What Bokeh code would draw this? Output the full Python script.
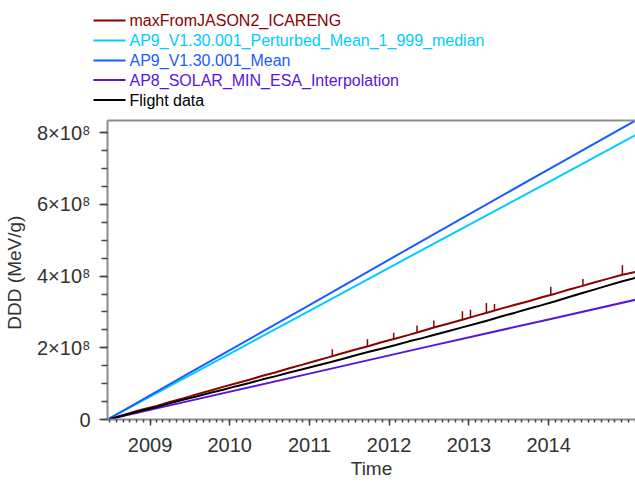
import pandas as pd
from bokeh.plotting import figure
from bokeh.layouts import column
from bokeh.models import FixedTicker, LinearAxis, Range1d
from bokeh.core.properties import value
from bokeh.embed import file_html
from bokeh.resources import INLINE

# ---------------- data (DDD in units of 1e8 MeV/g) ----------------
obs_dates = ["2008-06-20", "2008-08-01", "2008-10-01", "2008-12-01",
             "2009-02-01", "2009-04-01", "2009-06-01", "2009-08-01", "2009-10-01", "2009-12-01",
             "2010-02-01", "2010-04-01", "2010-06-01", "2010-08-01", "2010-10-01", "2010-12-01",
             "2011-02-01", "2011-04-01", "2011-06-01", "2011-08-01", "2011-10-01", "2011-12-01",
             "2012-02-01", "2012-04-01", "2012-06-01", "2012-08-01", "2012-10-01", "2012-12-01",
             "2013-02-01", "2013-04-01", "2013-06-01", "2013-08-01", "2013-10-01", "2013-12-01",
             "2014-02-01", "2014-04-01", "2014-06-01", "2014-08-01", "2014-10-01", "2014-12-01",
             "2015-02-03"]
max_jason2 = [0, 0.07, 0.18, 0.29, 0.38, 0.49, 0.59, 0.70, 0.80, 0.91,
              1.01, 1.11, 1.22, 1.32, 1.43, 1.53, 1.64, 1.74, 1.85, 1.95,
              2.05, 2.16, 2.26, 2.36, 2.47, 2.58, 2.68, 2.78, 2.89, 2.99,
              3.10, 3.20, 3.30, 3.41, 3.51, 3.62, 3.72, 3.83, 3.93, 4.03, 4.12]
flight = [0, 0.065, 0.16, 0.26, 0.35, 0.45, 0.55, 0.64, 0.74, 0.83,
          0.93, 1.02, 1.12, 1.21, 1.31, 1.40, 1.50, 1.59, 1.69, 1.79,
          1.89, 1.98, 2.08, 2.18, 2.27, 2.37, 2.47, 2.57, 2.67, 2.77,
          2.88, 2.98, 3.09, 3.19, 3.30, 3.41, 3.52, 3.63, 3.74, 3.85, 3.95]

spike_dates = ["2011-04-16", "2011-09-24", "2012-01-22", "2012-05-08", "2012-07-24", "2012-12-02",
               "2013-01-08", "2013-03-22", "2013-04-28", "2014-01-11", "2014-06-07", "2014-12-05"]
spike_base = [1.76, 2.04, 2.24, 2.43, 2.56, 2.78, 2.84, 2.97, 3.03, 3.48, 3.73, 4.04]
spike_top = [1.96, 2.24, 2.42, 2.62, 2.76, 3.02, 3.06, 3.25, 3.22, 3.70, 3.92, 4.30]

model_dates = ["2008-06-20", "2009-07-01", "2011-01-01", "2012-07-01", "2014-01-01", "2015-02-03"]
ap9_mean = [0, 1.30, 3.19, 5.09, 6.98, 8.34]
ap9_perturbed = [0, 1.23, 3.03, 4.83, 6.62, 7.93]
ap8_min = [0, 0.52, 1.28, 2.04, 2.79, 3.34]

labels = ["maxFromJASON2_ICARENG", "AP9_V1.30.001_Perturbed_Mean_1_999_median",
          "AP9_V1.30.001_Mean", "AP8_SOLAR_MIN_ESA_Interpolation", "Flight data"]
colors = ["#8b0000", "#00ccff", "#1a5cff", "#5a14dc", "#000000"]

year_ticks = [2009, 2010, 2011, 2012, 2013, 2014]
y_ticks = [0, 2, 4, 6, 8]
y_tick_labels = ["0", "2×10⁸", "4×10⁸", "6×10⁸", "8×10⁸"]

SCALE = 1e8
FONT = "Liberation Sans"
TXT = "#333333"
AX = "#8c8c8c"

def dt(s):
    return pd.to_datetime(s)

def ms(s):
    return pd.Timestamp(s).value / 1e6

obs_x = [dt(d) for d in obs_dates]
mod_x = [dt(d) for d in model_dates]

# ---------------- legend strip (pixel-like coordinates) ----------------
LEG_H = 110
leg = figure(width=635, height=LEG_H, output_backend="svg", toolbar_location=None,
             x_range=Range1d(0, 635), y_range=Range1d(LEG_H, 0),
             x_axis_location=None, y_axis_location=None,
             min_border=0, min_border_left=0, min_border_right=0,
             min_border_top=0, min_border_bottom=0)
leg.outline_line_color = None
leg.grid.visible = False
row_y = [20, 40, 60, 79.5, 99.5]
leg.segment(x0=[93] * 5, x1=[125] * 5, y0=row_y, y1=row_y, line_color=colors, line_width=2)
leg.text(x=[129] * 5, y=row_y, text=labels, text_color=colors,
         text_font=value(FONT), text_font_size="16px", text_baseline="alphabetic",
         text_align="left")

# ---------------- main plot ----------------
p = figure(width=635, height=483 - LEG_H, x_axis_type="datetime", output_backend="svg",
           toolbar_location=None,
           x_range=Range1d(dt("2008-06-20"), dt("2015-02-03")),
           y_range=Range1d(0, 8.34 * SCALE),
           min_border_left=107, min_border_top=10, min_border_right=0, min_border_bottom=64)
p.outline_line_color = None
p.grid.visible = False

for fig in (leg, p):
    if "frame_align" in fig.properties():
        fig.frame_align = False

p.line(obs_x, [v * SCALE for v in max_jason2], line_color=colors[0], line_width=2)
p.segment(x0=[dt(d) for d in spike_dates], y0=[v * SCALE for v in spike_base],
          x1=[dt(d) for d in spike_dates], y1=[v * SCALE for v in spike_top],
          line_color=colors[0], line_width=1.5)
p.line(mod_x, [v * SCALE for v in ap9_perturbed], line_color=colors[1], line_width=2)
p.line(mod_x, [v * SCALE for v in ap9_mean], line_color=colors[2], line_width=2)
p.line(mod_x, [v * SCALE for v in ap8_min], line_color=colors[3], line_width=2)
p.line(obs_x, [v * SCALE for v in flight], line_color=colors[4], line_width=2)

# x axis
xa = p.xaxis[0]
maj = [ms(f"{y}-01-01") for y in year_ticks]
minor = [ms(d) for d in pd.date_range("2008-07-01", "2015-02-01", freq="MS")]
xa.ticker = FixedTicker(ticks=maj, minor_ticks=minor)
xa.major_label_overrides = {m: str(y) for m, y in zip(maj, year_ticks)}
xa.axis_label = "Time"

# y axis
ya = p.yaxis[0]
ya.ticker = FixedTicker(ticks=[v * SCALE for v in y_ticks],
                        minor_ticks=[i * 0.5 * SCALE for i in range(17)])
ya.major_label_overrides = {v * SCALE: s for v, s in zip(y_ticks, y_tick_labels)}
ya.axis_label = "DDD  (MeV/g)"

for a in (xa, ya):
    a.axis_line_color = AX
    a.axis_line_width = 2
    a.major_tick_line_color = "#444444"
    a.minor_tick_line_color = "#444444"
    a.major_tick_line_width = 1.5
    a.minor_tick_line_width = 1.5
    a.major_tick_in = 0
    a.minor_tick_in = 0
    a.major_label_text_font = FONT
    a.major_label_text_font_size = "20px"
    a.major_label_text_color = TXT
    a.axis_label_text_font = FONT
    a.axis_label_text_font_size = "19px"
    a.axis_label_text_color = TXT
    a.axis_label_text_font_style = "normal"

xa.major_tick_out = 6
xa.minor_tick_out = 3
xa.major_label_standoff = 12
xa.axis_label_standoff = 3
ya.major_tick_out = 8
ya.minor_tick_out = 6
ya.major_label_standoff = 9
ya.axis_label_standoff = 9

top = LinearAxis(ticker=FixedTicker(ticks=[]), axis_line_color=AX, axis_line_width=2,
                 major_tick_line_color=None, minor_tick_line_color=None,
                 major_tick_out=0, major_label_standoff=0,
                 major_label_text_font_size="0px")
p.add_layout(top, "above")

layout = column(column(leg), p, spacing=0)
open("out.html", "w").write(file_html(layout, INLINE))
